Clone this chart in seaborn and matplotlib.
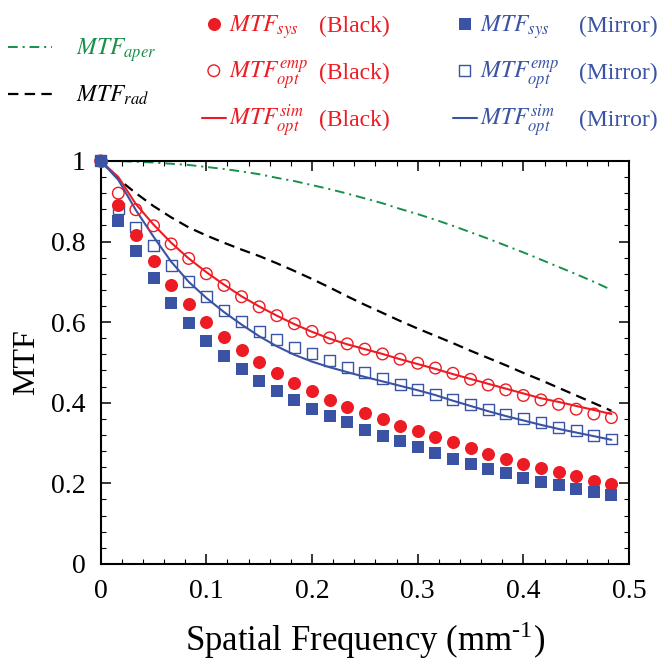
import numpy as np
import pandas as pd
import seaborn as sns
import matplotlib.pyplot as plt
from matplotlib.ticker import MultipleLocator, FuncFormatter

# spatial frequency samples (mm^-1)
freq = [0.0000, 0.0167, 0.0333, 0.0500, 0.0667, 0.0833, 0.1000, 0.1167, 0.1333, 0.1500,
        0.1667, 0.1833, 0.2000, 0.2167, 0.2333, 0.2500, 0.2667, 0.2833, 0.3000, 0.3167,
        0.3333, 0.3500, 0.3667, 0.3833, 0.4000, 0.4167, 0.4333, 0.4500, 0.4667, 0.4833]

mtf_aper = [1.000, 0.9996, 0.998, 0.996, 0.993, 0.990, 0.985, 0.980, 0.974, 0.967,
            0.958, 0.950, 0.940, 0.930, 0.919, 0.907, 0.895, 0.881, 0.868, 0.854,
            0.839, 0.823, 0.807, 0.790, 0.773, 0.755, 0.737, 0.719, 0.700, 0.680]
mtf_rad = [1.000, 0.955, 0.920, 0.888, 0.860, 0.835, 0.815, 0.797, 0.780, 0.764,
           0.746, 0.727, 0.707, 0.686, 0.664, 0.643, 0.623, 0.603, 0.584, 0.566,
           0.548, 0.529, 0.511, 0.493, 0.474, 0.456, 0.437, 0.418, 0.399, 0.380]

# black target
sys_black = [1.000, 0.890, 0.816, 0.752, 0.692, 0.644, 0.600, 0.563, 0.531, 0.500,
             0.473, 0.450, 0.428, 0.408, 0.390, 0.374, 0.359, 0.343, 0.330, 0.316,
             0.302, 0.288, 0.274, 0.261, 0.249, 0.237, 0.227, 0.217, 0.207, 0.199]
emp_black = [1.000, 0.920, 0.879, 0.839, 0.794, 0.758, 0.720, 0.691, 0.663, 0.638,
             0.616, 0.596, 0.577, 0.561, 0.546, 0.533, 0.521, 0.508, 0.498, 0.486,
             0.473, 0.458, 0.444, 0.432, 0.418, 0.407, 0.396, 0.384, 0.372, 0.363]
sim_black = [1.000, 0.960, 0.893, 0.842, 0.797, 0.758, 0.724, 0.693, 0.664, 0.639,
             0.616, 0.595, 0.576, 0.559, 0.545, 0.533, 0.521, 0.508, 0.496, 0.484,
             0.471, 0.459, 0.447, 0.435, 0.423, 0.411, 0.402, 0.392, 0.382, 0.372]

# mirror target
sys_mirror = [1.000, 0.851, 0.777, 0.709, 0.648, 0.597, 0.552, 0.516, 0.484, 0.455,
              0.430, 0.407, 0.385, 0.367, 0.351, 0.333, 0.318, 0.304, 0.289, 0.275,
              0.261, 0.248, 0.236, 0.225, 0.214, 0.204, 0.195, 0.186, 0.178, 0.170]
emp_mirror = [1.000, 0.882, 0.836, 0.789, 0.741, 0.701, 0.663, 0.630, 0.601, 0.577,
              0.556, 0.538, 0.521, 0.505, 0.488, 0.475, 0.460, 0.446, 0.433, 0.421,
              0.409, 0.396, 0.384, 0.372, 0.361, 0.350, 0.339, 0.330, 0.319, 0.310]
sim_mirror = [1.000, 0.953, 0.878, 0.812, 0.750, 0.700, 0.660, 0.625, 0.594, 0.565,
              0.540, 0.519, 0.502, 0.488, 0.476, 0.464, 0.453, 0.442, 0.431, 0.419,
              0.405, 0.392, 0.379, 0.367, 0.356, 0.345, 0.335, 0.326, 0.317, 0.308]

red = "#ED1C24"
blue = "#3A53A4"
green = "#17904A"

sns.set_style("ticks", rc={"axes.edgecolor": "black", "xtick.color": "black",
                           "ytick.color": "black", "text.color": "black",
                           "axes.labelcolor": "black"})
plt.rcParams["font.family"] = ["Liberation Serif", "DejaVu Serif"]
plt.rcParams["mathtext.fontset"] = "stix"
plt.rcParams["lines.scale_dashes"] = False

W, H = 658, 665
fig = plt.figure(figsize=(W / 100, H / 100), dpi=100)
ax = fig.add_axes([0.153, 0.152, 0.803, 0.606])

sns.lineplot(x=freq, y=mtf_aper, color=green, linewidth=1.4,
             linestyle=(0, (7, 3.5, 1.5, 3.5)), ax=ax)
h_aper = ax.lines[-1]
sns.lineplot(x=freq, y=mtf_rad, color="black", linewidth=1.6,
             linestyle=(0, (7.5, 4.5)), ax=ax)
h_rad = ax.lines[-1]
sns.lineplot(x=freq, y=sim_black, color=red, linewidth=1.5, ax=ax)
h_sim_b = ax.lines[-1]
sns.lineplot(x=freq, y=sim_mirror, color=blue, linewidth=1.5, ax=ax)
h_sim_m = ax.lines[-1]

sns.scatterplot(x=freq, y=emp_black, marker="o", s=70, color=red,
                facecolor="none", edgecolor=red, linewidth=1.0,
                clip_on=False, zorder=3, ax=ax)
h_emp_b = ax.collections[-1]
sns.scatterplot(x=freq, y=emp_mirror, marker="s", s=62, color=blue,
                facecolor="none", edgecolor=blue, linewidth=1.0,
                clip_on=False, zorder=3, ax=ax)
h_emp_m = ax.collections[-1]
sns.scatterplot(x=freq, y=sys_black, marker="o", s=88, color=red,
                linewidth=0, clip_on=False, zorder=4, ax=ax)
h_sys_b = ax.collections[-1]
sns.scatterplot(x=freq, y=sys_mirror, marker="s", s=76, color=blue,
                linewidth=0, clip_on=False, zorder=4, ax=ax)
h_sys_m = ax.collections[-1]

ax.set_xlim(0, 0.5)
ax.set_ylim(0, 1)
ax.xaxis.set_major_locator(MultipleLocator(0.1))
ax.xaxis.set_minor_locator(MultipleLocator(0.02))
ax.yaxis.set_major_locator(MultipleLocator(0.2))
ax.yaxis.set_minor_locator(MultipleLocator(0.04))
fmt = FuncFormatter(lambda v, p: f"{v:g}")
ax.xaxis.set_major_formatter(fmt)
ax.yaxis.set_major_formatter(fmt)
ax.tick_params(which="both", direction="in", top=True, right=True, labelsize=20)
ax.tick_params(which="major", length=7, width=1.1, pad=11)
ax.tick_params(which="minor", length=3.6, width=0.8)
for sp in ax.spines.values():
    sp.set_linewidth(1.5)

ax.set_xlabel("Spatial Frequency (mm$^{\\mathregular{\u20101}}$)", fontsize=25, labelpad=11)
ax.set_ylabel("MTF", fontsize=23, labelpad=7)

# legend: one row per entry, rows placed on fixed text baselines (pixels from top)
fs = 17
rows = [
    (h_aper, r"$MTF_{aper}$", green, 8, 55, 1.85, 1.05),
    (h_rad, r"$MTF_{rad}$", "black", 8, 102, 1.85, 1.05),
    (h_sys_b, r"$MTF_{sys}$", red, 202, 32, 1.0, 0.15),
    (h_emp_b, r"$MTF_{opt}^{emp}$", red, 202, 79, 1.0, 0.15),
    (h_sim_b, r"$MTF_{opt}^{sim}$", red, 202, 126, 1.0, 0.15),
    (h_sys_m, r"$MTF_{sys}$", blue, 453, 32, 1.0, 0.15),
    (h_emp_m, r"$MTF_{opt}^{emp}$", blue, 453, 79, 1.0, 0.15),
    (h_sim_m, r"$MTF_{opt}^{sim}$", blue, 453, 126, 1.0, 0.15),
]
legs = []
for handle, label, col, x, base, hl, pad in rows:
    leg = fig.legend(handles=[handle], labels=[label], loc="upper left",
                     bbox_to_anchor=(x / W, 1 - base / H), frameon=False,
                     fontsize=fs, borderpad=0, borderaxespad=0,
                     scatterpoints=1, scatteryoffsets=[0.5],
                     handlelength=hl, handletextpad=pad)
    leg.get_texts()[0].set_color(col)
    legs.append((leg, x, base))

fig.canvas.draw()
for leg, x, base in legs:
    yb = leg.get_texts()[0].get_transform().transform((0, 0))[1]
    shift = (H - base) - yb
    leg.set_bbox_to_anchor((x / W, 1 - base / H + shift / H), transform=fig.transFigure)

for name, xpx, col in [("(Black)", 319, red), ("(Mirror)", 579, blue)]:
    for base in [32, 79, 126]:
        fig.text(xpx / W, 1 - base / H, name, color=col, fontsize=fs,
                 va="baseline", ha="left")

fig.savefig("out.png", dpi=100)
